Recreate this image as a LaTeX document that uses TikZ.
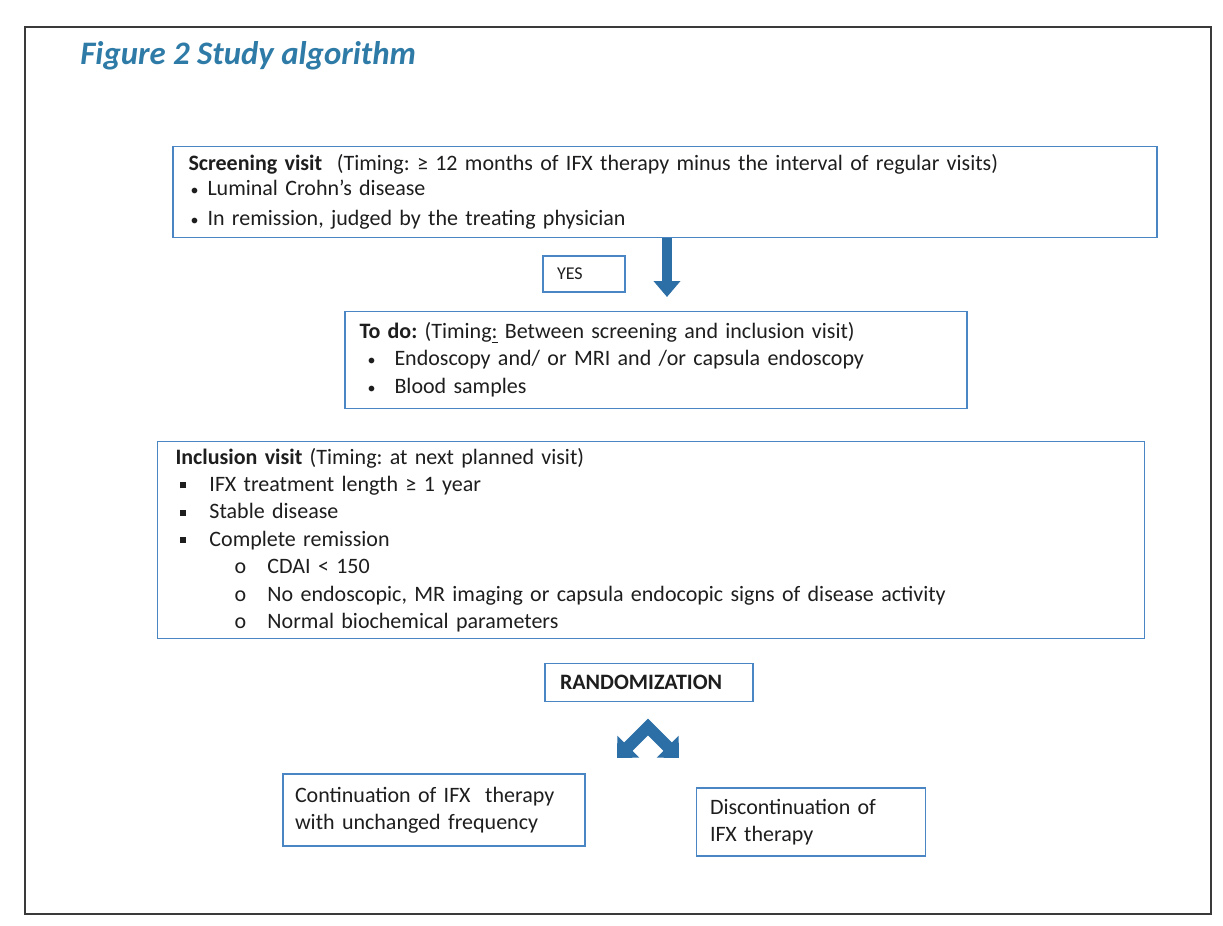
\documentclass[tikz,border=0pt]{standalone}
\usepackage{fontspec}
\setmainfont{Carlito}
\usetikzlibrary{arrows.meta}
\frenchspacing
\definecolor{boxblue}{HTML}{4A86C4}
\definecolor{arrblue}{HTML}{2B6FA6}
\definecolor{titleblue}{HTML}{2F7BA7}
\definecolor{framegray}{HTML}{3A3A3A}
\definecolor{txt}{HTML}{1E1E1E}
\newcommand{\sqbul}{\raisebox{0.3ex}{\rule{3pt}{3pt}}}
\newcommand{\smbul}{{\fontsize{8}{8}\selectfont •}}
\tikzset{
  fbox/.style={draw=boxblue, line width=0.9pt, inner ysep=0pt, align=left, text=txt,
    font=\fontsize{11}{13.4}\selectfont},
  blockarrow/.style={arrblue, line width=5pt},
}
\begin{document}
\begin{tikzpicture}[x=0.5pt,y=-0.5pt]
\useasboundingbox (0,0) rectangle (1223,926);
\fill[white] (0,0) rectangle (1223,926);
\draw[framegray, line width=1pt] (25,27) rectangle (1211,914);
\node[anchor=base west, font=\fontsize{16.4}{19}\selectfont\bfseries\itshape, text=titleblue, inner sep=0pt] (title) at (80,64) {Figure 2 Study algorithm};
\node[fbox, minimum width=492pt, minimum height=45.5pt, inner xsep=7.75pt, text width=476.5pt] (scr) at (665,192)
{\textbf{Screening visit}\ \ (Timing: ≥ 12 months of IFX therapy minus the interval of regular visits)\\[-0.9pt]
\makebox[9.5pt][l]{\hspace{1pt}\smbul}Luminal Crohn’s disease\\[1.6pt]
\makebox[9.5pt][l]{\hspace{1pt}\smbul}In remission, judged by the treating physician};
\node[fbox, font=\fontsize{9}{11}\selectfont, minimum width=41pt, minimum height=18pt, inner xsep=7pt, text width=27pt] (yes) at (584,274) {YES};
\node[fbox, minimum width=311pt, minimum height=48.5pt, inner xsep=7.25pt, text width=296.5pt] (todo) at (656,360)
{\textbf{To do:} (Timing\underline{:} Between screening and inclusion visit)\\
\makebox[17.5pt][l]{\hspace{4pt}\smbul}Endoscopy and/ or MRI and /or capsula endoscopy\\[0.5pt]
\makebox[17.5pt][l]{\hspace{4pt}\smbul}Blood samples};
\node[fbox, font=\fontsize{11}{13.7}\selectfont, minimum width=493.5pt, minimum height=98.5pt, inner xsep=9pt, text width=475.5pt] (incl) at (651,540)
{\textbf{Inclusion visit} (Timing: at next planned visit)\\
\makebox[17pt][l]{\hspace{2pt}\sqbul}IFX treatment length ≥ 1 year\\
\makebox[17pt][l]{\hspace{2pt}\sqbul}Stable disease\\
\makebox[17pt][l]{\hspace{2pt}\sqbul}Complete remission\\
\hspace*{29.5pt}\makebox[16.5pt][l]{o}CDAI < 150\\
\hspace*{29.5pt}\makebox[16.5pt][l]{o}No endoscopic, MR imaging or capsula endocopic signs of disease activity\\
\hspace*{29.5pt}\makebox[16.5pt][l]{o}Normal biochemical parameters};
\node[fbox, minimum width=104pt, minimum height=19pt, inner xsep=7.5pt, text width=89pt] (rand) at (649,682.5) {\textbf{RANDOMIZATION}};
\node[fbox, minimum width=151pt, minimum height=36pt, inner xsep=6pt, text width=139pt] (cont) at (434,810)
{Continuation of IFX\ \ therapy\\with unchanged frequency};
\node[fbox, minimum width=114.5pt, minimum height=34pt, inner xsep=6.75pt, text width=101pt] (disc) at (811,822)
{Discontinuation of\\IFX therapy};
\coordinate (dtip) at (667,297);
\draw[blockarrow, -{Triangle[width=13pt,length=8pt]}] (scr.south -| dtip) -- (dtip);
\coordinate (cl) at (617,758);
\coordinate (ca) at (648,727);
\coordinate (cr) at (679,758);
\draw[blockarrow, line width=6pt, line join=miter, {Triangle[width=15pt,length=8pt]}-{Triangle[width=15pt,length=8pt]}] (cl) -- (ca) -- (cr);
\end{tikzpicture}
\end{document}
